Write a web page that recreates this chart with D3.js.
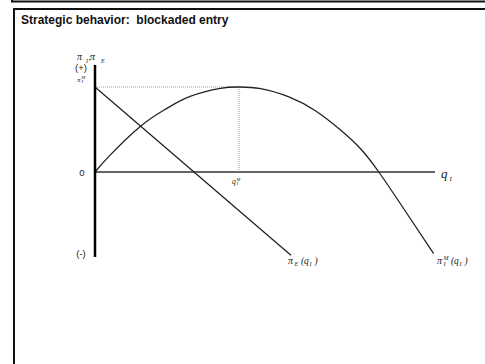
<!DOCTYPE html>
<html>
<head>
<meta charset="utf-8">
<script src="https://cdn.jsdelivr.net/npm/d3@7"></script>
<style>
    body { margin: 0; background: #fff; }
    svg { display: block; }
    .serif { font-family: "Liberation Serif", "Times New Roman", serif; font-style: italic; fill: #222; }
</style>
</head>
<body>
<div id="chart"></div>
<script>
// 垄断利润曲线 pi_I^M(q_I)，从图上读的点
var monoQ = [0, 0.10, 0.31, 0.49, 0.66, 0.87, 1.0, 1.15, 1.35, 1.53, 1.70, 1.84, 1.97, 2.15, 2.35];
var monoPi = [0, 0.19, 0.53, 0.74, 0.89, 0.985, 1.0, 0.98, 0.88, 0.72, 0.50, 0.28, 0, -0.45, -0.96];
// 进入者利润 pi_E(q_I)
var entQ = [0, 1.36];
var entPi = [1.0, -0.98];
// 纵轴刻度
var yTickVals = [1.23, 0, -0.96];
var yTickLabels = ["(+)", "0", "(-)"];

var width = 485, height = 364;
var svg = d3.select("#chart").append("svg").attr("width", width).attr("height", height);

var x = d3.scaleLinear().domain([0, 2.36]).range([95, 435]);
var y = d3.scaleLinear().domain([-1, 1]).range([257, 87]);

// 外框
svg.append("path").attr("d", "M12,0 V1.5 H485").attr("fill", "none").attr("stroke", "#111").attr("stroke-width", 2);
svg.append("path").attr("d", "M14,372 V9 H485").attr("fill", "none").attr("stroke", "#111").attr("stroke-width", 2);

svg.append("text").attr("x", 21).attr("y", 24)
    .attr("xml:space", "preserve").style("white-space", "pre")
    .style("font-family", "Liberation Sans, Arial, sans-serif").style("font-weight", "bold")
    .style("font-size", "12px").attr("fill", "#111")
    .text("Strategic behavior:  blockaded entry");

// 虚线：垄断利润和垄断产量
svg.append("line").attr("x1", x(0)).attr("x2", x(1)).attr("y1", y(1)).attr("y2", y(1))
    .attr("stroke", "#999").attr("stroke-width", 1).attr("stroke-dasharray", "1,1");
svg.append("line").attr("x1", x(1)).attr("x2", x(1)).attr("y1", y(1)).attr("y2", y(0))
    .attr("stroke", "#999").attr("stroke-width", 1).attr("stroke-dasharray", "1,1");

// 横轴
svg.append("line").attr("x1", x(0)).attr("x2", x(2.36)).attr("y1", y(0)).attr("y2", y(0))
    .attr("stroke", "#666").attr("stroke-width", 2);

var lineGen = d3.line().x(function (d) { return x(d[0]); }).y(function (d) { return y(d[1]); });

svg.append("path")
    .datum(monoQ.map(function (q, i) { return [q, monoPi[i]]; }))
    .attr("d", lineGen.curve(d3.curveNatural))
    .attr("fill", "none").attr("stroke", "#222").attr("stroke-width", 1.3);

svg.append("path")
    .datum(entQ.map(function (q, i) { return [q, entPi[i]]; }))
    .attr("d", lineGen.curve(d3.curveLinear))
    .attr("fill", "none").attr("stroke", "#222").attr("stroke-width", 1.3);

// 纵轴
svg.append("line").attr("x1", x(0)).attr("x2", x(0)).attr("y1", y(1.26)).attr("y2", y(-1))
    .attr("stroke", "#000").attr("stroke-width", 2.5);

svg.selectAll(".ytick").data(yTickVals).enter().append("text")
    .attr("class", "ytick")
    .attr("x", function (d, i) { return i === 1 ? 82 : 81; })
    .attr("y", function (d) { return y(d) + 3.5; })
    .attr("text-anchor", "middle")
    .style("font-family", "Liberation Sans, Arial, sans-serif").style("font-size", "9.5px").attr("fill", "#222")
    .text(function (d, i) { return yTickLabels[i]; });

// 数学标签：每一段 [文字, x, y, 字号]
function mathLabel(parts) {
    parts.forEach(function (p) {
        svg.append("text").attr("class", "serif")
            .attr("x", p[1]).attr("y", p[2])
            .style("font-size", p[3] + "px").text(p[0]);
    });
}

mathLabel([["π", 77, 60, 10], ["I", 86, 62.5, 6], [";", 88.5, 60, 8], ["π", 90, 60, 10], ["E", 101, 62.5, 6]]);
mathLabel([["π", 77, 81.5, 7], ["I", 81.5, 82.5, 4.5], ["M", 81.5, 78.5, 4.5]]);
mathLabel([["q", 232, 184, 7.5], ["I", 236.5, 185, 4.5], ["M", 236.5, 181, 4.5]]);
mathLabel([["q", 441, 178, 13], ["I", 449.5, 180.5, 7]]);
mathLabel([["π", 288, 264, 10], ["E", 294.5, 265.5, 6], ["(", 301, 264, 9.5], ["q", 304, 264, 9.5], ["I", 309.5, 265.5, 6], [")", 314.5, 264, 9.5]]);
mathLabel([["π", 437, 264, 10], ["I", 443.5, 265.5, 6], ["M", 443.5, 259.5, 6], ["(", 451, 264, 9.5], ["q", 454, 264, 9.5], ["I", 459.5, 265.5, 6], [")", 464.5, 264, 9.5]]);
</script>
</body>
</html>
